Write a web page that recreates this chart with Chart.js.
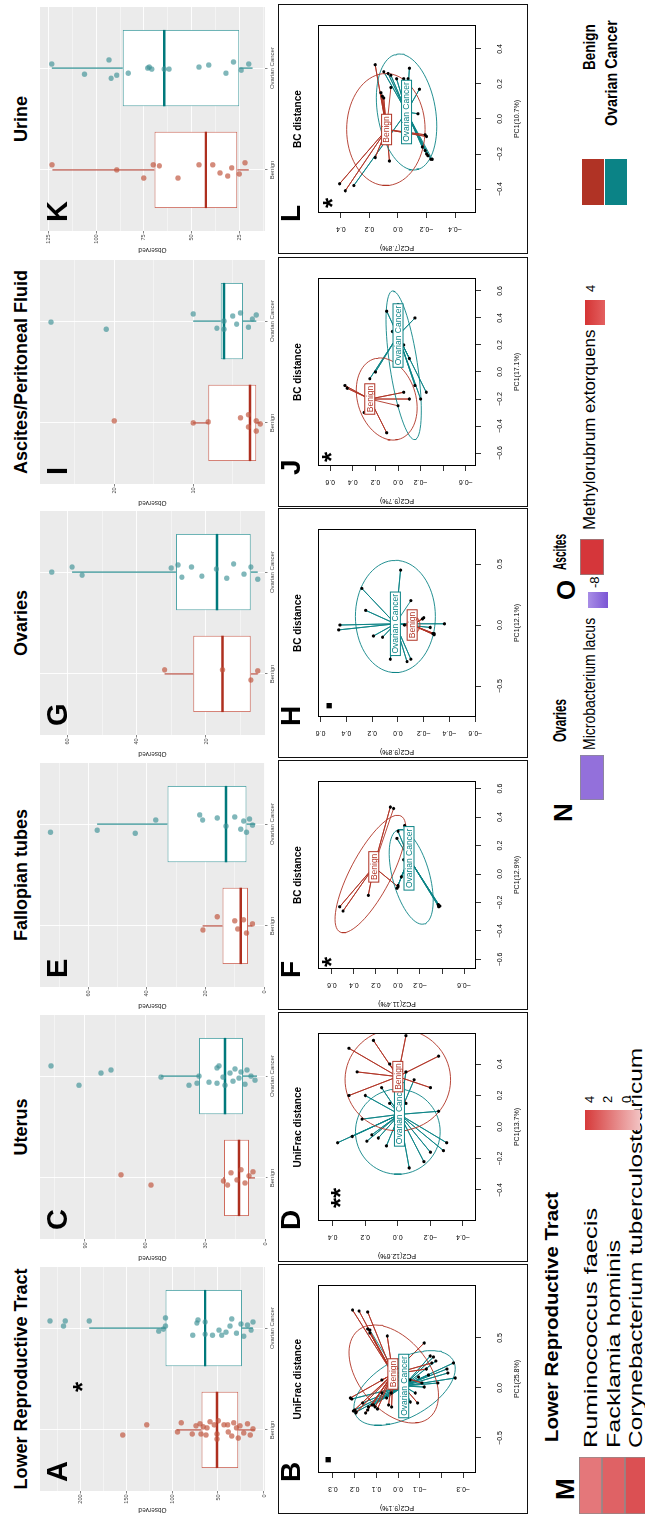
<!DOCTYPE html>
<html>
<head>
<meta charset="utf-8">
<script src="https://cdn.jsdelivr.net/npm/chart.js@4.4.1/dist/chart.umd.min.js"></script>
<style>
html, body { margin: 0; padding: 0; background: #fff; overflow: hidden; }
#fig { position: absolute; left: 0; top: 0; width: 1514px; height: 645px; transform-origin: 0 0;
       transform: translateY(1514px) rotate(-90deg); font-family: "Liberation Sans", Arial, sans-serif; color: #000; }
#fig canvas { position: absolute; }
.t { position: absolute; white-space: nowrap; }
.pan { position: absolute; border: 1.5px solid #111; box-sizing: border-box; }
.sw { position: absolute; }
</style>
</head>
<body>
<div id="fig"></div>
<script>
// ---------- observed richness boxplots ----------
const boxTitles = ['Lower Reproductive Tract', 'Uterus', 'Fallopian tubes', 'Ovaries', 'Ascites/Peritoneal Fluid', 'Urine'];
const boxLetters = ['A', 'C', 'E', 'G', 'I', 'K'];
const groupNames = ['Benign', 'Ovarian Cancer'];

// [min, q1, median, q3, max] for Benign, Ovarian Cancer
const boxA = [[10, 28, 51, 68, 95], [12, 24, 64, 107, 190]];
const boxC = [[5, 8, 13, 20.5, 21], [4, 11, 20, 33, 52]];
const boxE = [[4, 5.5, 8, 14.2, 21], [3, 6, 13, 33, 57]];
const boxG = [[5, 7, 15.2, 23.7, 32], [5, 7, 16.8, 28.7, 58.8]];
const boxI = [[1.5, 2, 2.8, 8.1, 10], [2, 3.7, 6.1, 6.5, 10]];
const boxK = [[20, 26, 42.5, 69.5, 123], [18, 25, 64.3, 86.1, 123.3]];

// jittered samples: [offset from group centre, observed]
const benA = [[-0.05,153.6],[0.05,127.5],[-0.02,94],[0.07,90],[-0.04,78],[0.04,74],[0.06,69.6],[-0.04,68.5],[0.03,66],[-0.05,63],[0.02,62],[0.08,58.7],[0.05,54],[-0.04,51],[-0.09,51],[0.09,49.6],[0.05,43.5],[0.05,39.5],[-0.02,38.8],[-0.06,35],[0.07,33],[0.02,30],[-0.08,28],[0.04,26],[-0.03,22],[0.06,18],[-0.05,15],[0.01,12]];
const canA = [[0.07,232.6],[0.02,218],[0.07,216],[0.07,190],[-0.03,114.5],[-0.01,109.4],[0.02,107],[0.10,107],[-0.07,77.5],[0.05,73],[0.08,71.7],[0.06,64],[-0.06,64],[-0.07,56],[-0.02,48.9],[-0.07,46],[-0.04,41.3],[0.02,37],[0.09,35],[-0.05,30],[0.04,25],[-0.08,22],[0.03,18],[-0.02,14],[0.06,12]];
const benC = [[0.03,72],[-0.07,57],[-0.03,20.8],[-0.07,18.7],[0.05,17],[-0.02,14],[0.08,12],[-0.05,10],[0.02,8],[0.06,6]];
const canC = [[0.10,107],[-0.09,93],[0.03,82],[0.06,77],[-0.01,52],[-0.09,38],[-0.07,34],[0,33],[-0.06,28],[0.08,24],[0.10,23],[-0.07,24],[-0.01,21],[-0.09,20],[0.03,17.5],[-0.05,16],[0.07,15],[-0.02,13],[0.04,12],[-0.08,10],[0.06,9],[0,7],[-0.04,5]];
const benE = [[-0.04,20.9],[0.09,16],[0.05,10],[-0.03,9],[0.06,7],[-0.07,6],[0.02,4]];
const canE = [[-0.08,72.9],[-0.06,57],[-0.09,44],[0.04,37],[0.09,22],[0.04,21],[0.06,16],[-0.02,13],[0.07,10],[-0.05,8],[0.03,7],[-0.08,6],[0.05,5],[-0.01,4]];
const benG = [[0.04,32],[0.04,15.2],[-0.06,7],[0.03,5]];
const canG = [[0,64.7],[0.05,58.8],[-0.03,55.9],[0.04,30.1],[0.07,28.1],[-0.05,27],[0.05,24.2],[-0.04,21.2],[0.03,17],[-0.06,14],[0.08,12],[-0.02,9],[0.05,7],[-0.07,5]];
const benI = [[0.02,20],[0,10],[0.01,8.1],[0.05,4],[-0.04,3],[0.08,3],[-0.08,2],[0.02,2],[-0.01,1.5]];
const canI = [[-0.01,28],[-0.08,21],[0.07,10],[-0.07,7],[0,6.1],[-0.08,6.1],[0.05,5],[-0.03,4.5],[0.08,4],[-0.06,3],[0.02,2.5],[0.06,2]];
const benK = [[0.05,123.2],[0,89.3],[-0.08,75.1],[0.05,70.1],[0.04,66.9],[-0.08,57.1],[0.05,46.1],[0.05,38.9],[-0.03,35.1],[-0.06,31.1],[0.02,29],[-0.04,25],[0.07,22]];
const canK = [[0.04,123.3],[-0.06,106.2],[0.08,93.3],[-0.10,92.2],[-0.07,89.3],[-0.05,83.2],[0,73],[0.01,72.2],[-0.01,70.9],[-0.01,64.3],[-0.01,61.8],[0.01,46.1],[0.03,41],[-0.05,32],[0.06,28],[-0.02,24],[0.04,20]];

// value axis limits and breaks
const limA = [-1.1, 243.5], majA = [0, 50, 100, 150, 200], minA = [25, 75, 125, 175, 225];
const limC = [0, 112.5], majC = [0, 30, 60, 90], minC = [15, 45, 75, 105];
const limE = [-0.3, 76.5], majE = [0, 20, 40, 60], minE = [10, 30, 50, 70];
const limG = [2.9, 68.1], majG = [20, 40, 60], minG = [10, 30, 50];
const limI = [0.9, 29.4], majI = [10, 20], minI = [5, 15, 25];
const limK = [11.5, 129.5], majK = [25, 50, 75, 100, 125], minK = [12.5, 37.5, 62.5, 87.5, 112.5];

// ---------- PCoA panels ----------
const pcoaTitles = ['UniFrac distance', 'UniFrac distance', 'BC distance', 'BC distance', 'BC distance', 'BC distance'];
const pcoaLetters = ['B', 'D', 'F', 'H', 'J', 'L'];
const pcoaSig = ['\u25A0', '**', '*', '\u25A0', '*', '*'];
const pc1Names = ['PC1(25.8%)', 'PC1(13.7%)', 'PC1(12.9%)', 'PC1(12.1%)', 'PC1(17.1%)', 'PC1(10.7%)'];
const pc2Names = ['PC2(9.1%)', 'PC2(12.6%)', 'PC2(11.4%)', 'PC2(9.8%)', 'PC2(9.7%)', 'PC2(7.8%)'];

const xlimB = [-0.85, 1.03], ylimB = [-0.359, 0.369], xtB = [-0.5, 0, 0.5], ytB = [-0.3, -0.2, -0.1, 0, 0.1, 0.2, 0.3], yhideB = [-0.2];
const xlimD = [-0.597, 0.597], ylimD = [-0.48, 0.49], xtD = [-0.4, -0.2, 0, 0.2, 0.4], ytD = [-0.4, -0.2, 0, 0.2, 0.4], yhideD = [];
const xlimF = [-0.667, 0.653], ylimF = [-0.709, 0.727], xtF = [-0.6, -0.4, -0.2, 0, 0.2, 0.4, 0.6], ytF = [-0.6, -0.4, -0.2, 0, 0.2, 0.4, 0.6], yhideF = [-0.4];
const xlimH = [-0.754, 0.787], ylimH = [-0.605, 0.62], xtH = [-0.5, 0, 0.5], ytH = [-0.6, -0.4, -0.2, 0, 0.2, 0.4, 0.6], yhideH = [];
const xlimJ = [-0.696, 0.696], ylimJ = [-0.69, 0.708], xtJ = [-0.6, -0.4, -0.2, 0, 0.2, 0.4, 0.6], ytJ = [-0.6, -0.4, -0.2, 0, 0.2, 0.4, 0.6], yhideJ = [-0.4];
const xlimL = [-0.537, 0.537], ylimL = [-0.547, 0.561], xtL = [-0.4, -0.2, 0, 0.2, 0.4], ytL = [-0.4, -0.2, 0, 0.2, 0.4], yhideL = [];

// sample coordinates [PC1, PC2]
const ptsBenB = [[0.78,0.21],[0.77,0.18],[0.76,0.14],[0.59,0.14],[0.55,0.13],[0.52,0.05],[0.45,-0.12],[0.25,-0.155],[0.19,-0.13],[0.08,0.075],[0.08,-0.055],[0.05,-0.11],[-0.15,-0.09],[-0.17,0.044],[-0.19,0.03],[-0.19,0.106],[-0.21,0.095],[-0.17,0.12],[-0.22,0.14],[-0.10,0.22],[-0.23,0.206],[-0.25,0.195],[-0.25,0.15]];
const ptsCanB = [[0.32,-0.148],[0.31,-0.163],[0.27,-0.174],[0.25,-0.255],[0.19,-0.225],[0.15,-0.229],[0.10,-0.263],[0.05,-0.183],[0.13,-0.14],[0.01,-0.12],[0.11,-0.094],[-0.05,-0.079],[-0.14,-0.056],[-0.09,-0.032],[-0.11,0.213],[-0.22,0.20],[-0.24,0.193],[-0.15,0.164],[-0.19,0.137],[-0.17,0.113],[-0.05,0.075],[-0.10,0.053],[-0.05,0.032],[0.58,0.13]];
const ptsBenD = [[0.55,0.15],[0.58,-0.05],[0.45,-0.25],[0.35,0.25],[0.2,0.3],[0.5,0.3],[0.25,-0.2],[0.4,0.05],[0.15,-0.05]];
const ptsCanD = [[-0.10,0.37],[-0.06,0.28],[-0.09,0.19],[-0.05,0.16],[-0.07,0.12],[-0.12,0.07],[-0.26,-0.07],[-0.22,-0.16],[-0.16,-0.20],[-0.15,-0.28],[-0.10,-0.30],[0.2,0.2],[0.3,-0.1],[0.1,-0.25],[0.25,0.1],[0.05,0.22],[0.35,-0.05],[0.15,0.05]];
const ptsBenF = [[-0.23,0.53],[-0.26,0.50],[-0.15,0.27],[-0.09,0.0],[0.47,0.07],[0.46,0.04]];
const ptsCanF = [[-0.22,-0.37],[-0.225,-0.38],[-0.23,-0.37],[-0.215,-0.365],[-0.08,0.0],[-0.10,0.01],[-0.02,-0.03],[0.34,-0.06],[0.30,0.0],[0.25,0.01],[0.1,-0.05]];
const ptsBenH = [[-0.07,-0.28],[-0.08,-0.28],[-0.07,-0.27],[0.05,-0.19],[0.06,-0.20],[0.0,-0.05]];
const ptsCanH = [[0.0,0.45],[-0.04,0.46],[-0.09,0.19],[-0.10,0.12],[-0.28,0.06],[-0.30,-0.07],[-0.28,-0.10],[0.01,-0.36],[0.45,-0.02],[0.12,0.25],[0.3,0.28],[-0.02,-0.25],[0.2,-0.1]];
const ptsBenJ = [[-0.12,0.45],[-0.10,0.47],[-0.3,0.3],[-0.45,0.1],[-0.15,-0.05],[-0.2,-0.1],[-0.25,0.0]];
const ptsCanJ = [[0.45,0.1],[0.5,0.0],[0.4,-0.15],[0.1,-0.1],[0.2,-0.05],[-0.15,-0.25],[-0.2,-0.2],[-0.1,-0.15],[0.0,0.2],[-0.05,0.25],[0.3,0.05]];
const ptsBenL = [[-0.37,0.41],[-0.41,0.37],[0.31,0.16],[0.15,0.12],[0.13,0.11],[0.12,0.10],[-0.22,0.16],[-0.24,0.06],[-0.09,-0.19],[-0.10,-0.2],[0.18,0.05]];
const ptsCanL = [[-0.38,0.31],[0.27,0.10],[0.26,0.07],[0.25,0.05],[0.23,0.01],[0.23,-0.04],[0.23,-0.07],[0.29,-0.08],[0.17,-0.15],[0.03,-0.14],[-0.16,-0.17],[-0.18,-0.19],[-0.20,-0.20],[-0.21,-0.21],[-0.23,-0.23],[-0.23,-0.24]];

// group centroids [Benign, Ovarian Cancer]
const cenB = [[0.14,0.024],[0.02,-0.026]];
const cenD = [[0.32,0.0],[0.08,-0.01]];
const cenF = [[0.05,0.22],[0.11,-0.10]];
const cenH = [[0.0,-0.11],[0.01,0.02]];
const cenJ = [[-0.2,0.25],[0.27,0.0]];
const cenL = [[-0.06,0.08],[0.04,-0.06]];

// dispersion ellipses: [cx, cy, u1, u2, v1, v2] (centre and two conjugate semi-axes)
const ellB = [[0.14,0.02,0.48,0.05,0.10,0.20],[0.0,-0.03,0.36,-0.17,0.10,0.16]];
const ellD = [[0.30,0.0,0.32,0.05,-0.05,0.32],[-0.03,0.0,0.27,0.0,0.0,0.26]];
const ellF = [[0.0,0.25,0.40,-0.29,0.10,0.14],[-0.02,-0.12,0.33,0.12,0.04,-0.16]];
const ellH = [[0.0,-0.12,0.07,0,0,0.05],[0.07,0.02,0.46,0,0,0.31]];
const ellJ = [[-0.2,0.1,0.3,0.1,-0.05,0.25],[0.05,-0.05,0.55,0.1,0.02,-0.12]];
const ellL = [[-0.06,0.085,0.32,0.0,0.0,0.275],[0.04,-0.06,0.33,0.07,-0.03,0.2]];

// ---------- differential abundance heatmaps ----------
const heatM = ['Ruminococcus faecis', 'Facklamia hominis', 'Corynebacterium tuberculostearicum'];
const heatMVal = [2.8, 3.4, 3.9];
const heatN = ['Microbacterium lacus'];
const heatNVal = [-8];
const heatO = ['Methylorubrum extorquens'];
const heatOVal = [4.6];

// ================= drawing =================
const FONT = '"Liberation Sans", Arial, Helvetica, sans-serif';
Chart.defaults.font.family = FONT;
const RED = '#B03325', TEAL = '#0B8386';
const RED_PT = 'rgba(192,84,60,0.68)', TEAL_PT = 'rgba(62,146,150,0.66)';
const RED_BOX = '#CF6B5C', TEAL_BOX = '#52A6A9';
const RED_MED = '#AE2F1F', TEAL_MED = '#00797C';
const colX = [0, 252, 504, 756, 1007, 1260];

const fig = document.getElementById('fig');

function txt(s, x, cy, size, o) {
  o = o || {};
  const d = document.createElement('div');
  d.className = 't';
  d.textContent = s;
  d.style.fontSize = size + 'px';
  d.style.lineHeight = size + 'px';
  d.style.fontWeight = o.bold ? 'bold' : 'normal';
  if (o.color) d.style.color = o.color;
  if (o.family) d.style.fontFamily = o.family;
  d.style.top = (cy - size * (o.star ? 0.34 : 0.5)) + 'px';
  fig.appendChild(d);
  let w = d.offsetWidth, sx = 1;
  if (o.w) { sx = o.w / w; w = o.w; }
  let left = x;
  if (o.align === 'center') left = x - w / 2;
  if (o.align === 'right') left = x - w;
  d.style.left = left + 'px';
  if (sx !== 1) { d.style.transformOrigin = '0 50%'; d.style.transform = 'scaleX(' + sx + ')'; }
  return d;
}

function canvasAt(x, y, w, h) {
  const c = document.createElement('canvas');
  c.width = w; c.height = h;
  c.style.left = x + 'px'; c.style.top = y + 'px';
  c.style.width = w + 'px'; c.style.height = h + 'px';
  fig.appendChild(c);
  return c;
}

const grayBg = {
  id: 'grayBg',
  beforeDraw(ch) {
    const a = ch.chartArea, c = ch.ctx;
    c.save(); c.fillStyle = '#EBEBEB';
    c.fillRect(a.left, a.top, a.right - a.left, a.bottom - a.top);
    c.restore();
  }
};

function boxPanel(k, p) {
  const col = colX[k];
  txt(boxTitles[k], col + 135, 20.5, 18, { bold: true, align: 'center' });
  const cv = canvasAt(col, 34, 252, 246);
  const all = p.maj.concat(p.min).sort((a, b) => a - b);
  const ds = [];
  [p.ben, p.can].forEach((pts, g) => ds.push({
    type: 'scatter', data: pts.map(d => ({ x: g + 1 + d[0], y: d[1] })),
    backgroundColor: g ? TEAL_PT : RED_PT, borderWidth: 0, pointRadius: 2.7, order: 1
  }));
  p.box.forEach((s, g) => {
    const x = g + 1, c = g ? TEAL_MED : RED_MED;
    ds.push({ type: 'line', data: [{ x: x - 0.375, y: s[2] }, { x: x + 0.375, y: s[2] }], borderColor: c, borderWidth: 2.4, pointRadius: 0, order: 2 });
    ds.push({ type: 'line', data: [{ x: x, y: s[3] }, { x: x, y: s[4] }], borderColor: c, borderWidth: 1, pointRadius: 0, order: 3 });
    ds.push({ type: 'line', data: [{ x: x, y: s[0] }, { x: x, y: s[1] }], borderColor: c, borderWidth: 1, pointRadius: 0, order: 3 });
  });
  ds.push({
    type: 'bar', data: p.box.map((s, g) => ({ x: g + 1, y: [s[1], s[3]] })),
    backgroundColor: '#fff', borderColor: [RED_BOX, TEAL_BOX], borderWidth: 1, borderSkipped: false,
    categoryPercentage: 0.75, barPercentage: 1, grouped: false, order: 4
  });
  new Chart(cv, {
    type: 'bar',
    data: { datasets: ds },
    plugins: [grayBg],
    options: {
      responsive: false, animation: false, devicePixelRatio: 1,
      layout: { padding: { left: 0, right: 5, top: 6, bottom: 0 } },
      plugins: { legend: { display: false }, tooltip: { enabled: false } },
      scales: {
        x: {
          type: 'linear', min: 0.4, max: 2.6, offset: false,
          afterBuildTicks: s => { s.ticks = [{ value: 1 }, { value: 2 }]; },
          afterFit: s => { s.height = 15; },
          border: { display: false },
          grid: { color: '#fff', lineWidth: 0.9, offset: false, tickLength: 2.5, tickColor: '#333', tickWidth: 0.6 },
          ticks: { font: { size: 6 }, color: '#4D4D4D', padding: 1.5, maxRotation: 0, autoSkip: false, callback: v => groupNames[v - 1] }
        },
        y: {
          type: 'linear', min: p.lim[0], max: p.lim[1],
          afterBuildTicks: s => { s.ticks = all.map(v => ({ value: v })); },
          afterFit: s => { s.width = 23; },
          border: { display: false },
          grid: {
            color: '#fff', tickLength: 2.5, tickWidth: 0.6,
            lineWidth: c => (c.tick && p.maj.includes(c.tick.value)) ? 0.9 : 0.45,
            tickColor: c => (c.tick && p.maj.includes(c.tick.value)) ? '#333' : 'rgba(0,0,0,0)'
          },
          ticks: { font: { size: 5.5 }, color: '#4D4D4D', padding: 1, autoSkip: false, callback: v => p.maj.includes(v) ? String(v) : '' },
          title: { display: true, text: 'Observed', font: { size: 6.5 }, color: '#222', padding: { top: 0.6, bottom: 0 } }
        }
      }
    }
  });
  txt(boxLetters[k], col + 32, 57.5, 29, { bold: true });
}

function fmt(v) {
  const a = Math.abs(v).toFixed(1);
  return (v < -1e-9 ? '\u2212' : '') + a;
}

function ellipsePts(e) {
  const out = [];
  for (let i = 0; i <= 72; i++) {
    const t = i / 72 * Math.PI * 2;
    out.push({ x: e[0] + e[2] * Math.cos(t) + e[4] * Math.sin(t), y: e[1] + e[3] * Math.cos(t) + e[5] * Math.sin(t) });
  }
  return out;
}

function pcoaPanel(k, p) {
  const col = colX[k];
  const pan = document.createElement('div');
  pan.className = 'pan';
  pan.style.left = col + 'px'; pan.style.top = '278px';
  pan.style.width = '250px'; pan.style.height = '250px';
  fig.appendChild(pan);
  txt(pcoaTitles[k], col + 135, 297.5, 10, { bold: true, align: 'center' });
  const cv = canvasAt(col + 1, 279, 248, 248);
  const cols = [RED, TEAL];
  const ds = [];
  [p.ben, p.can].forEach((pts, g) => {
    const c = { x: p.cen[g][0], y: p.cen[g][1] };
    const spokes = [];
    pts.forEach(q => { spokes.push(c); spokes.push({ x: q[0], y: q[1] }); });
    ds.push({ type: 'line', data: spokes, borderColor: cols[g], borderWidth: 0.9, pointRadius: 0, order: 3 });
    ds.push({ type: 'line', data: ellipsePts(p.ell[g]), borderColor: cols[g], borderWidth: 0.9, pointRadius: 0, order: 2 });
  });
  ds.push({
    type: 'scatter', data: p.ben.concat(p.can).map(q => ({ x: q[0], y: q[1] })),
    backgroundColor: '#000', borderWidth: 0, pointRadius: 1.6, order: 1
  });
  const deco = {
    id: 'deco',
    afterDatasetsDraw(ch) {
      const c = ch.ctx, xs = ch.scales.x, ys = ch.scales.y;
      c.save();
      c.font = '8.5px ' + FONT;
      c.textAlign = 'center'; c.textBaseline = 'middle';
      [1, 0].forEach(g => {
        const px = xs.getPixelForValue(p.cen[g][0]), py = ys.getPixelForValue(p.cen[g][1]);
        const w = c.measureText(groupNames[g]).width + 4, h = 10;
        c.fillStyle = '#fff'; c.fillRect(px - w / 2, py - h / 2, w, h);
        c.strokeStyle = cols[g]; c.lineWidth = 1; c.strokeRect(px - w / 2, py - h / 2, w, h);
        c.fillStyle = cols[g]; c.fillText(groupNames[g], px, py + 0.5);
      });
      const a = ch.chartArea;
      c.strokeStyle = '#000'; c.lineWidth = 1;
      c.strokeRect(a.left + 0.5, a.top + 0.5, a.right - a.left - 1, a.bottom - a.top - 1);
      c.restore();
    }
  };
  new Chart(cv, {
    type: 'scatter',
    data: { datasets: ds },
    plugins: [deco],
    options: {
      responsive: false, animation: false, devicePixelRatio: 1,
      layout: { padding: { left: 0, right: 20, top: 39, bottom: 0 } },
      plugins: { legend: { display: false }, tooltip: { enabled: false } },
      scales: {
        x: {
          type: 'linear', min: p.xlim[0], max: p.xlim[1],
          afterBuildTicks: s => { s.ticks = p.xt.map(v => ({ value: v })); },
          afterFit: s => { s.height = 51; },
          border: { display: false },
          grid: { drawOnChartArea: false, tickLength: 5, color: '#000', lineWidth: 0.8 },
          ticks: { font: { size: 7 }, color: '#000', padding: 15, maxRotation: 0, autoSkip: false, callback: v => fmt(v) },
          title: { display: true, text: pc1Names[k], font: { size: 7 }, color: '#000', padding: { top: 0, bottom: 5.3 } }
        },
        y: {
          type: 'linear', min: p.ylim[0], max: p.ylim[1],
          afterBuildTicks: s => { s.ticks = p.yt.map(v => ({ value: v })); },
          afterFit: s => { s.width = 40; },
          border: { display: false },
          grid: { drawOnChartArea: false, tickLength: 5, color: '#000', lineWidth: 0.8 },
          ticks: {
            font: { size: 7 }, color: '#000', padding: 4.5, autoSkip: false, minRotation: 90, maxRotation: 90, crossAlign: 'center',
            callback: v => p.yhide.some(h => Math.abs(h - v) < 1e-9) ? '' : fmt(v)
          },
          title: { display: true, text: pc2Names[k], font: { size: 7 }, color: '#000', padding: { top: 1.3, bottom: 0 } }
        }
      }
    }
  });
  txt(pcoaLetters[k], col + 32, 291, 28, { bold: true });
}

boxPanel(0, { box: boxA, ben: benA, can: canA, lim: limA, maj: majA, min: minA });
boxPanel(1, { box: boxC, ben: benC, can: canC, lim: limC, maj: majC, min: minC });
boxPanel(2, { box: boxE, ben: benE, can: canE, lim: limE, maj: majE, min: minE });
boxPanel(3, { box: boxG, ben: benG, can: canG, lim: limG, maj: majG, min: minG });
boxPanel(4, { box: boxI, ben: benI, can: canI, lim: limI, maj: majI, min: minI });
boxPanel(5, { box: boxK, ben: benK, can: canK, lim: limK, maj: majK, min: minK });
txt('*', 122, 78, 26, { bold: true, star: true });

pcoaPanel(0, { ben: ptsBenB, can: ptsCanB, cen: cenB, ell: ellB, xlim: xlimB, ylim: ylimB, xt: xtB, yt: ytB, yhide: yhideB });
pcoaPanel(1, { ben: ptsBenD, can: ptsCanD, cen: cenD, ell: ellD, xlim: xlimD, ylim: ylimD, xt: xtD, yt: ytD, yhide: yhideD });
pcoaPanel(2, { ben: ptsBenF, can: ptsCanF, cen: cenF, ell: ellF, xlim: xlimF, ylim: ylimF, xt: xtF, yt: ytF, yhide: yhideF });
pcoaPanel(3, { ben: ptsBenH, can: ptsCanH, cen: cenH, ell: ellH, xlim: xlimH, ylim: ylimH, xt: xtH, yt: ytH, yhide: yhideH });
pcoaPanel(4, { ben: ptsBenJ, can: ptsCanJ, cen: cenJ, ell: ellJ, xlim: xlimJ, ylim: ylimJ, xt: xtJ, yt: ytJ, yhide: yhideJ });
pcoaPanel(5, { ben: ptsBenL, can: ptsCanL, cen: cenL, ell: ellL, xlim: xlimL, ylim: ylimL, xt: xtL, yt: ytL, yhide: yhideL });

// significance marks
const sigX = [51, 54, 43, 49, 45, 46];
const sigY = [328.5, 335.5, 326.5, 329.5, 327, 328];
pcoaSig.forEach((s, k) => {
  if (s === '\u25A0') txt(s, colX[k] + sigX[k], sigY[k], 7, { family: '"DejaVu Sans", sans-serif' });
  else txt(s, colX[k] + sigX[k], sigY[k], 26, { bold: true, star: true });
});

// heatmap cells
function heatCells(x, y, w, names, vals, colorOf) {
  const rowH = 22.5;
  const cv = canvasAt(x, y, w, Math.ceil(rowH * names.length) + 1);
  new Chart(cv, {
    type: 'bar',
    data: { labels: names, datasets: [{ data: names.map(() => 1), backgroundColor: vals.map(colorOf), borderColor: '#8C8C8C', borderWidth: 1, borderSkipped: false, categoryPercentage: 1, barPercentage: 1 }] },
    options: {
      indexAxis: 'y', responsive: false, animation: false, devicePixelRatio: 1,
      layout: { padding: 0 },
      plugins: { legend: { display: false }, tooltip: { enabled: false } },
      scales: { x: { display: false, min: 0, max: 1 }, y: { display: false } }
    }
  });
}
function redScale(v) {
  const t = Math.max(0, Math.min(1, v / 5));
  const r = Math.round(250 - 40 * t), g = Math.round(220 - 180 * t), b = Math.round(222 - 178 * t);
  return 'rgb(' + r + ',' + g + ',' + b + ')';
}
function purpleScale(v) { return v < 0 ? '#9370DB' : '#fff'; }

txt('M', 14, 565, 26, { bold: true });
txt('Lower Reproductive Tract', 72, 552, 18, { bold: true, w: 250 });
heatCells(0, 579, 57, heatM, heatMVal, redScale);
heatM.forEach((n, i) => txt(n, 66, 591 + i * 22.5, 18, { w: [240, 208, 400][i] }));
const keyM = document.createElement('div');
keyM.className = 'sw';
Object.assign(keyM.style, { left: '384px', top: '585px', width: '20px', height: '55px', background: 'linear-gradient(#D63A3A, #F2C2C2)' });
fig.appendChild(keyM);
['4', '2', '0'].forEach((s, i) => txt(s, 411, 589 + i * 18.5, 13));

txt('N', 692, 563, 26, { bold: true });
txt('Ovaries', 772, 560, 18, { bold: true, w: 43 });
heatCells(714, 580, 45, heatN, heatNVal, purpleScale);
txt(heatN[0], 764, 590, 16, { w: 132 });
const keyN = document.createElement('div');
keyN.className = 'sw';
Object.assign(keyN.style, { left: '906px', top: '588px', width: '16px', height: '20px', background: 'linear-gradient(#A88DE6, #7B55D4)' });
fig.appendChild(keyN);
txt('-8', 926, 594, 13);

txt('O', 914, 566, 26, { bold: true });
txt('Ascites', 944, 560, 18, { bold: true, w: 36 });
heatCells(939, 580, 36, heatO, heatOVal, redScale);
txt(heatO[0], 984, 590, 16, { w: 200 });
const keyO = document.createElement('div');
keyO.className = 'sw';
Object.assign(keyO.style, { left: '1189px', top: '585px', width: '25px', height: '20px', background: 'linear-gradient(#D53434, #E36060)' });
fig.appendChild(keyO);
txt('4', 1222, 590, 13);

// group legend
[[RED, 582], [TEAL, 605]].forEach(([c, y]) => {
  const s = document.createElement('div');
  s.className = 'sw';
  Object.assign(s.style, { left: '1309px', top: y + 'px', width: '46px', height: '22px', background: c });
  fig.appendChild(s);
});
txt('Benign', 1490, 589, 17, { bold: true, align: 'right', w: 46 });
txt('Ovarian Cancer', 1494, 611, 17, { bold: true, align: 'right', w: 106 });
</script>
</body>
</html>
